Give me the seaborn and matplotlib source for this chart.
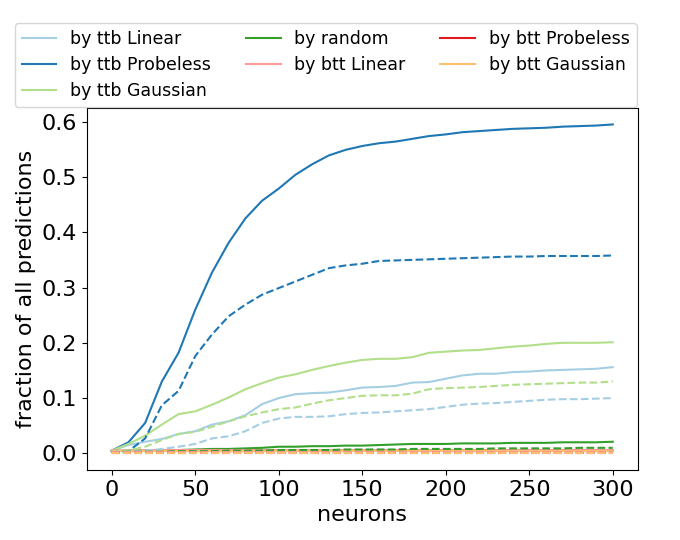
import numpy as np
import pandas as pd
import matplotlib
matplotlib.use("Agg")
import matplotlib.pyplot as plt
import seaborn as sns

neurons = [0, 10, 20, 30, 40, 50, 60, 70, 80, 90, 100, 110, 120, 130, 140, 150,
           160, 170, 180, 190, 200, 210, 220, 230, 240, 250, 260, 270, 280, 290, 300]

# solid lines
ttb_linear = [0.005, 0.015, 0.021, 0.026, 0.035, 0.04, 0.052, 0.058, 0.069, 0.089, 0.1,
              0.107, 0.109, 0.11, 0.114, 0.119, 0.12, 0.122, 0.128, 0.129, 0.135, 0.141,
              0.144, 0.144, 0.147, 0.148, 0.15, 0.151, 0.152, 0.153, 0.156]
ttb_probeless = [0.005, 0.02, 0.055, 0.13, 0.182, 0.26, 0.327, 0.381, 0.425, 0.457, 0.479,
                 0.504, 0.523, 0.539, 0.549, 0.556, 0.561, 0.564, 0.569, 0.574, 0.577,
                 0.581, 0.583, 0.585, 0.587, 0.588, 0.589, 0.591, 0.592, 0.593, 0.595]
ttb_gaussian = [0.005, 0.017, 0.032, 0.052, 0.071, 0.076, 0.088, 0.101, 0.116, 0.127, 0.137,
                0.143, 0.151, 0.158, 0.164, 0.169, 0.171, 0.171, 0.174, 0.182, 0.184,
                0.186, 0.187, 0.19, 0.193, 0.195, 0.198, 0.2, 0.2, 0.2, 0.201]
random_sel = [0.004, 0.005, 0.005, 0.006, 0.006, 0.007, 0.008, 0.008, 0.009, 0.01, 0.012,
              0.012, 0.013, 0.013, 0.014, 0.014, 0.015, 0.016, 0.017, 0.017, 0.017,
              0.018, 0.018, 0.018, 0.019, 0.019, 0.019, 0.02, 0.02, 0.02, 0.021]
btt_linear = [0.005, 0.005, 0.006, 0.006, 0.006, 0.006, 0.006, 0.006, 0.006, 0.006, 0.006,
              0.006, 0.006, 0.006, 0.006, 0.006, 0.006, 0.006, 0.006, 0.006, 0.006,
              0.006, 0.006, 0.006, 0.006, 0.006, 0.006, 0.006, 0.006, 0.006, 0.006]
btt_probeless = [0.005, 0.005, 0.005, 0.005, 0.005, 0.005, 0.005, 0.005, 0.005, 0.005, 0.005,
                 0.005, 0.005, 0.005, 0.005, 0.005, 0.005, 0.005, 0.005, 0.005, 0.005,
                 0.005, 0.005, 0.005, 0.005, 0.005, 0.005, 0.005, 0.005, 0.005, 0.005]
btt_gaussian = [0.004, 0.004, 0.004, 0.004, 0.004, 0.004, 0.004, 0.004, 0.004, 0.004, 0.004,
                0.004, 0.004, 0.004, 0.004, 0.004, 0.004, 0.004, 0.004, 0.004, 0.004,
                0.004, 0.004, 0.004, 0.004, 0.004, 0.004, 0.004, 0.004, 0.004, 0.004]

# dashed lines (same colours, no legend entry)
ttb_linear_d = [0.002, 0.003, 0.005, 0.008, 0.012, 0.017, 0.027, 0.031, 0.04, 0.055, 0.063,
                0.066, 0.066, 0.067, 0.071, 0.073, 0.074, 0.076, 0.078, 0.08, 0.084,
                0.088, 0.09, 0.091, 0.093, 0.095, 0.097, 0.098, 0.098, 0.099, 0.1]
ttb_probeless_d = [0.002, 0.004, 0.027, 0.087, 0.113, 0.176, 0.215, 0.248, 0.269, 0.287, 0.299,
                   0.311, 0.323, 0.335, 0.34, 0.343, 0.348, 0.349, 0.35, 0.351, 0.352,
                   0.353, 0.354, 0.355, 0.356, 0.356, 0.357, 0.357, 0.357, 0.357, 0.358]
ttb_gaussian_d = [0.003, 0.005, 0.012, 0.024, 0.035, 0.039, 0.048, 0.058, 0.067, 0.074, 0.08,
                  0.083, 0.09, 0.096, 0.1, 0.104, 0.105, 0.105, 0.108, 0.116, 0.118,
                  0.119, 0.12, 0.122, 0.124, 0.125, 0.126, 0.127, 0.128, 0.128, 0.13]
random_sel_d = [0.002, 0.003, 0.003, 0.003, 0.004, 0.004, 0.004, 0.005, 0.005, 0.005, 0.006,
                0.006, 0.006, 0.006, 0.007, 0.007, 0.007, 0.007, 0.008, 0.008, 0.008,
                0.008, 0.008, 0.009, 0.009, 0.009, 0.009, 0.009, 0.01, 0.01, 0.01]
btt_linear_d = [0.002, 0.002, 0.002, 0.002, 0.002, 0.002, 0.002, 0.002, 0.002, 0.002, 0.002,
                0.002, 0.002, 0.002, 0.002, 0.002, 0.002, 0.002, 0.002, 0.002, 0.002,
                0.002, 0.002, 0.002, 0.002, 0.002, 0.002, 0.002, 0.002, 0.002, 0.002]
btt_probeless_d = [0.001, 0.001, 0.001, 0.001, 0.001, 0.001, 0.001, 0.001, 0.001, 0.001, 0.001,
                   0.001, 0.001, 0.001, 0.001, 0.001, 0.001, 0.001, 0.001, 0.001, 0.001,
                   0.001, 0.001, 0.001, 0.001, 0.001, 0.001, 0.001, 0.001, 0.001, 0.001]
btt_gaussian_d = [0.0, 0.0, 0.0, 0.0, 0.0, 0.0, 0.0, 0.0, 0.0, 0.0, 0.0,
                  0.0, 0.0, 0.0, 0.0, 0.0, 0.0, 0.0, 0.0, 0.0, 0.0,
                  0.0, 0.0, 0.0, 0.0, 0.0, 0.0, 0.0, 0.0, 0.0, 0.0]

labels = ["by ttb Linear", "by ttb Probeless", "by ttb Gaussian", "by random",
          "by btt Linear", "by btt Probeless", "by btt Gaussian"]
solid = [ttb_linear, ttb_probeless, ttb_gaussian, random_sel,
         btt_linear, btt_probeless, btt_gaussian]
dashed = [ttb_linear_d, ttb_probeless_d, ttb_gaussian_d, random_sel_d,
          btt_linear_d, btt_probeless_d, btt_gaussian_d]

colors = sns.color_palette("Paired")

fig, ax = plt.subplots(figsize=(6.8, 5.4), dpi=100)
fig.subplots_adjust(left=0.1275, right=0.938, top=0.80, bottom=0.13)

for i, lab in enumerate(labels):
    sns.lineplot(x=neurons, y=solid[i], color=colors[i], label=lab, ax=ax, linewidth=1.5)
for i, lab in enumerate(labels):
    sns.lineplot(x=neurons, y=dashed[i], color=colors[i], ax=ax, linestyle="--",
                 linewidth=1.5, legend=False)

ax.set_xlabel("neurons", fontsize=16)
ax.set_ylabel("fraction of all predictions", fontsize=16)
ax.tick_params(labelsize=16)

ax.legend(loc="lower left", bbox_to_anchor=(0.0216, 0.8024), bbox_transform=fig.transFigure,
          ncol=3, fontsize=12.5, borderaxespad=0, labelspacing=0.45)

fig.savefig("out.png", dpi=100)
